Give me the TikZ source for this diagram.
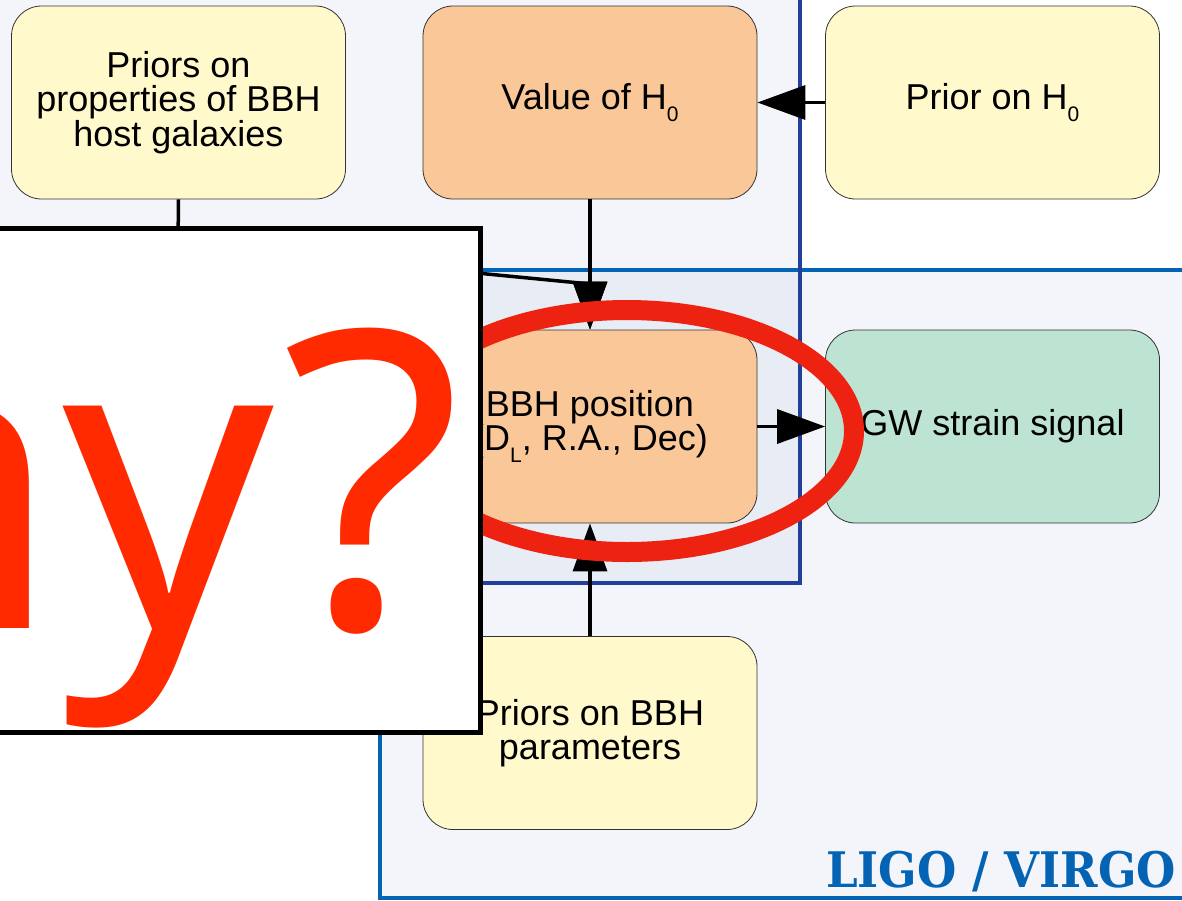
\documentclass[tikz,border=0pt]{standalone}
\usepackage{fontspec}
\setmainfont{Liberation Sans}
\newfontfamily\whyfont{Noto Sans}
\newfontfamily\ligofont[FakeStretch=0.92]{DejaVu Serif}
\usepackage{tikz}
\usetikzlibrary{arrows.meta,positioning,shapes.geometric}
\definecolor{priorcol}{HTML}{FFF9CC}
\definecolor{estcol}{HTML}{FAC898}
\definecolor{obscol}{HTML}{BDE3D3}
\definecolor{cosbg}{HTML}{F3F5FA}
\definecolor{midbg}{HTML}{E8ECF5}
\definecolor{cosblue}{HTML}{233F9C}
\definecolor{ligoblue}{HTML}{0563B4}
\definecolor{ringred}{HTML}{EE2211}
\definecolor{whyred}{HTML}{FF2A00}
\newcommand{\lsub}[1]{\raisebox{-12pt}{\fontsize{21}{21}\selectfont #1}}

\begin{document}
\begin{tikzpicture}[x=1pt,y=-1pt,
  box/.style={rectangle,rounded corners=30pt,draw=black!80,line width=0.8pt,minimum width=334pt,minimum height=193pt,align=center,inner sep=0pt,font=\fontsize{36}{34.5}\selectfont},
  pri/.style={box,fill=priorcol},
  est/.style={box,fill=estcol},
  obs/.style={box,fill=obscol},
  arr/.style={-{Triangle[length=48pt,width=34pt]},line width=3.5pt}]
  \useasboundingbox (0,0) rectangle (1182,900);
  \fill[white] (0,0) rectangle (1182,900);

  % the two groups
  \fill[cosbg] (-10,-10) rectangle (800,583);
  \fill[cosbg] (380,270) rectangle (1195,898);
  \fill[midbg] (380,270) rectangle (800,583);
  \draw[ligoblue,line width=4pt] (380,270) rectangle (1195,898);
  \draw[cosblue,line width=4pt] (-10,-10) rectangle (800,583);
  \node[font=\ligofont\bfseries\fontsize{49}{49}\selectfont,text=ligoblue,anchor=base east,inner sep=0pt] (ligo) at (1176,887) {LIGO / VIRGO};

  \node[pri] (host) at (178.5,102.5) {Priors on\\properties of BBH\\host galaxies};
  \node[est] (valh) at (590,102.5) {Value of H\lsub{0}};
  \node[pri] (prih) at (992.5,102.5) {Prior on H\lsub{0}};
  \node[est] (pos) at (590,426.5) {BBH position\\(D\lsub{L}, R.A., Dec)};
  \node[obs] (gw) at (992.5,426.5) {GW strain signal};
  \node[pri] (par) at (590,733) {Priors on BBH\\parameters};

  \coordinate (bend) at (178,244);
  \coordinate (join) at (590,284);
  \draw[arr] (host.south) -- (bend) -- (join) -- (pos.north);
  \draw[arr] (valh.south) -- (pos.north);
  \draw[arr] (prih.west) -- (valh.east);
  \draw[arr] (pos.east) -- (gw.west);
  \draw[arr] (par.north) -- (pos.south);

  % marking
  \draw[ringred,line width=20pt] (627,431) ellipse [x radius=227,y radius=121];
  \draw[fill=white,line width=5pt] (-10,228) rectangle (480,732);
  \node[font=\whyfont\fontsize{415}{415}\selectfont,text=whyred,anchor=base east,inner sep=0pt] (why) at (463,628) {Why?};
\end{tikzpicture}
\end{document}
